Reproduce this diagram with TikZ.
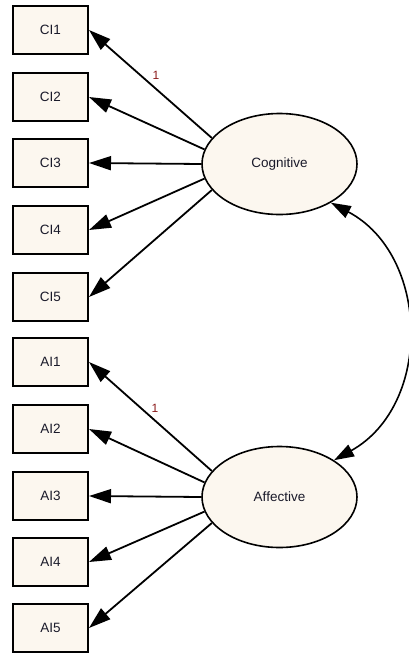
\documentclass[tikz,border=0pt]{standalone}
\usepackage{fontspec}
\setmainfont{Liberation Sans}
\usetikzlibrary{arrows.meta,shapes.geometric}
\definecolor{cream}{HTML}{FCF7EF}
\definecolor{lblred}{HTML}{8B1A1A}
\definecolor{txt}{HTML}{1A1A2A}
\begin{document}
\begin{tikzpicture}[x=1pt,y=-1pt,
  item/.style={draw=black,line width=2pt,fill=cream,minimum width=75pt,minimum height=48pt,inner sep=0pt,text=txt,font=\fontsize{13.5}{15}\selectfont},
  latent/.style={draw=black,line width=1.6pt,fill=cream,ellipse,minimum width=155pt,minimum height=101pt,inner sep=0pt,text=txt,font=\fontsize{13.5}{15}\selectfont},
  load/.style={line width=1.8pt,-{Triangle[length=22pt,width=14pt]}},
  cov/.style={line width=1.6pt,{Triangle[length=20pt,width=13pt]}-{Triangle[length=20pt,width=13pt]}},
  fix/.style={text=lblred,font=\fontsize{12}{14}\selectfont,inner sep=0pt}]
\useasboundingbox (0,0) rectangle (409,654);
\node[item] (ci1) at (50.5,30) {CI1};
\node[item] (ci2) at (50.5,97) {CI2};
\node[item] (ci3) at (50.5,163) {CI3};
\node[item] (ci4) at (50.5,230) {CI4};
\node[item] (ci5) at (50.5,297) {CI5};
\node[item] (ai1) at (50.5,362) {AI1};
\node[item] (ai2) at (50.5,429) {AI2};
\node[item] (ai3) at (50.5,496) {AI3};
\node[item] (ai4) at (50.5,562) {AI4};
\node[item] (ai5) at (50.5,628) {AI5};
\node[latent] (cog) at (279.5,164) {Cognitive};
\node[latent] (aff) at (279.5,497) {Affective};
\foreach \i/\a in {1/159,2/169,3/180,4/191,5/201} {
  \draw[load] (cog.\a) -- (ci\i.east);
  \draw[load] (aff.\a) -- (ai\i.east);
}
\node[fix] (l1) at (156,75) {1};
\node[fix] (l2) at (155,408) {1};
\draw[cov] (cog.-37) .. controls (430,255) and (433,405) .. (aff.34);
\end{tikzpicture}
\end{document}
